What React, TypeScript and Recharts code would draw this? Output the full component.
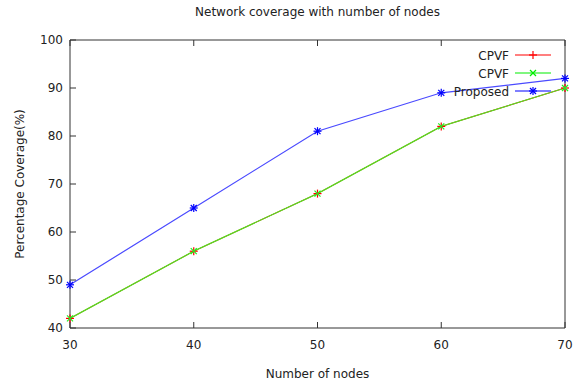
import React from 'react';
import { LineChart, Line, XAxis, YAxis } from 'recharts';

const nodes = [30, 40, 50, 60, 70];
const cpvfRed = [42, 56, 68, 82, 90];
const cpvfGreen = [42, 56, 68, 82, 90];
const proposed = [49, 65, 81, 89, 92];
const xTicks = [30, 40, 50, 60, 70];
const yTicks = [40, 50, 60, 70, 80, 90, 100];

const data = nodes.map((n, i) => ({
  nodes: n,
  red: cpvfRed[i],
  green: cpvfGreen[i],
  proposed: proposed[i],
}));

const FONT = '"DejaVu Sans", sans-serif';
const AXIS = '#333333';

type MarkerKind = 'plus' | 'cross' | 'star';

const Marker = ({ cx, cy, kind, color }: { cx: number; cy: number; kind: MarkerKind; color: string }) => {
  if (cx == null || cy == null) return null;
  const p = 4;
  const c = 3;
  return (
    <g stroke={color} strokeWidth={1.2}>
      {(kind === 'plus' || kind === 'star') && (
        <>
          <line x1={cx - p} y1={cy} x2={cx + p} y2={cy} />
          <line x1={cx} y1={cy - p} x2={cx} y2={cy + p} />
        </>
      )}
      {(kind === 'cross' || kind === 'star') && (
        <>
          <line x1={cx - c} y1={cy - c} x2={cx + c} y2={cy + c} />
          <line x1={cx - c} y1={cy + c} x2={cx + c} y2={cy - c} />
        </>
      )}
    </g>
  );
};

const makeDot = (kind: MarkerKind, color: string) => (props: any) => (
  <Marker key={`${kind}-${props.index}`} cx={props.cx} cy={props.cy} kind={kind} color={color} />
);

const legendItems: { name: string; color: string; kind: MarkerKind }[] = [
  { name: 'CPVF', color: '#ff0000', kind: 'plus' },
  { name: 'CPVF', color: '#00ee00', kind: 'cross' },
  { name: 'Proposed', color: '#0000ff', kind: 'star' },
];

const App = () => {
  return (
    <div style={{ position: 'absolute', left: 0, top: 0, width: 574, height: 382, background: '#fff', fontFamily: FONT }}>
      <div
        style={{
          position: 'absolute',
          top: 5,
          left: 70,
          width: 495,
          textAlign: 'center',
          fontSize: 12,
          color: '#222',
        }}
      >
        Network coverage with number of nodes
      </div>
      <LineChart width={574} height={382} data={data} margin={{ top: 39, right: 8, bottom: 0, left: 0 }}>
        <XAxis
          xAxisId="b"
          dataKey="nodes"
          type="number"
          domain={[30, 70]}
          ticks={xTicks}
          height={54}
          tickSize={-6}
          tickMargin={18}
          stroke={AXIS}
          tick={{ fill: '#222', fontSize: 12, fontFamily: FONT }}
          label={{ value: 'Number of nodes', position: 'insideBottom', offset: 4, fill: '#222', fontSize: 12, fontFamily: FONT }}
        />
        <XAxis
          xAxisId="t"
          orientation="top"
          dataKey="nodes"
          type="number"
          domain={[30, 70]}
          ticks={xTicks}
          height={1}
          tickSize={-6}
          stroke={AXIS}
          tickFormatter={() => ''}
        />
        <YAxis
          yAxisId="l"
          type="number"
          domain={[40, 100]}
          ticks={yTicks}
          width={70}
          tickSize={-6}
          tickMargin={13}
          stroke={AXIS}
          tick={{ fill: '#222', fontSize: 12, fontFamily: FONT }}
          label={{
            value: 'Percentage Coverage(%)',
            angle: -90,
            position: 'insideLeft',
            offset: 20,
            fill: '#222',
            fontSize: 12,
            fontFamily: FONT,
            style: { textAnchor: 'middle' },
          }}
        />
        <YAxis
          yAxisId="r"
          orientation="right"
          type="number"
          domain={[40, 100]}
          ticks={yTicks}
          width={1}
          tickSize={-6}
          stroke={AXIS}
          tickFormatter={() => ''}
        />
        <Line
          xAxisId="b"
          yAxisId="l"
          dataKey="red"
          stroke="#ff0000"
          strokeWidth={1}
          dot={makeDot('plus', '#ff0000')}
          isAnimationActive={false}
        />
        <Line
          xAxisId="b"
          yAxisId="l"
          dataKey="green"
          stroke="#55dd22"
          strokeWidth={1.3}
          dot={makeDot('cross', '#22ee22')}
          isAnimationActive={false}
        />
        <Line
          xAxisId="b"
          yAxisId="l"
          dataKey="proposed"
          stroke="#4a4aff"
          strokeWidth={1.2}
          dot={makeDot('star', '#0000ff')}
          isAnimationActive={false}
        />
      </LineChart>
      <svg style={{ position: 'absolute', left: 0, top: 0, pointerEvents: 'none' }} width={574} height={382}>
        {legendItems.map((item, i) => {
          const y = 55 + i * 18;
          return (
            <g key={i}>
              <text x={509} y={y + 4.5} textAnchor="end" fontSize={12} fontFamily={FONT} fill="#222">
                {item.name}
              </text>
              <line x1={515} y1={y} x2={551} y2={y} stroke={item.color} strokeWidth={1.2} />
              <Marker cx={533} cy={y} kind={item.kind} color={item.color} />
            </g>
          );
        })}
      </svg>
    </div>
  );
};

export default App;
